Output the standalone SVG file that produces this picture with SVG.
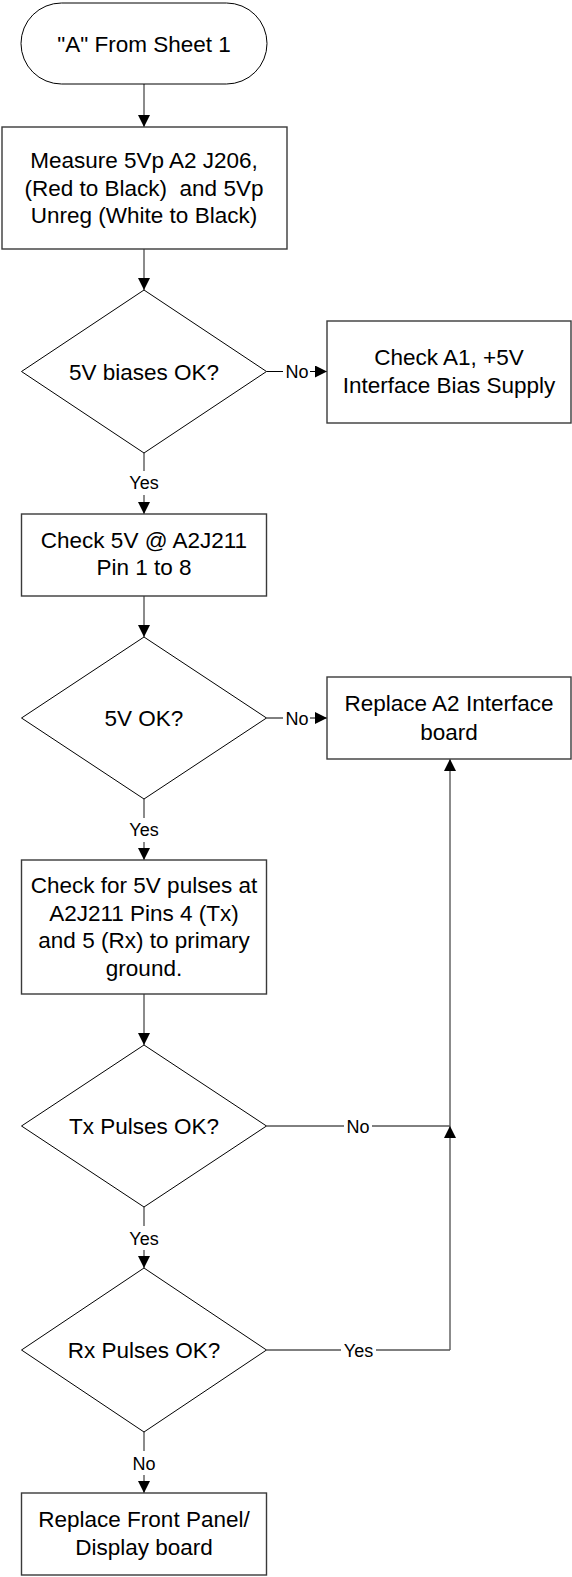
<svg xmlns="http://www.w3.org/2000/svg" width="572" height="1577" viewBox="0 0 572 1577">
<style>
.box{fill:#fff;stroke:#3a3a3a;stroke-width:1.4}
.dia{fill:#fff;stroke:#000;stroke-width:1}
.t{font-family:"Liberation Sans",Arial,sans-serif;font-size:22.5px;fill:#000;text-anchor:middle}
.lb{font-family:"Liberation Sans",Arial,sans-serif;font-size:18px;fill:#000;text-anchor:middle}
.v{stroke:#5a5a5a;stroke-width:1.4;fill:none}
.h{stroke:#000;stroke-width:1;fill:none}
</style>
<defs>
<marker id="ah" markerUnits="userSpaceOnUse" markerWidth="12" markerHeight="12" viewBox="0 0 12 12" refX="12" refY="6" orient="auto">
<path d="M0,0 L12,6 L0,12 Z" fill="#000"/>
</marker>
</defs>
<rect width="572" height="1577" fill="#fff"/>
<g id="connectors">
<line class="v" x1="144" y1="84" x2="144" y2="127" marker-end="url(#ah)"/>
<line class="v" x1="144" y1="249" x2="144" y2="290" marker-end="url(#ah)"/>
<line class="v" x1="144" y1="453" x2="144" y2="471"/>
<line class="v" x1="144" y1="495" x2="144" y2="514" marker-end="url(#ah)"/>
<line class="v" x1="144" y1="596" x2="144" y2="637" marker-end="url(#ah)"/>
<line class="v" x1="144" y1="799" x2="144" y2="818"/>
<line class="v" x1="144" y1="842" x2="144" y2="860" marker-end="url(#ah)"/>
<line class="v" x1="144" y1="994" x2="144" y2="1045" marker-end="url(#ah)"/>
<line class="v" x1="144" y1="1207" x2="144" y2="1226"/>
<line class="v" x1="144" y1="1250" x2="144" y2="1268" marker-end="url(#ah)"/>
<line class="v" x1="144" y1="1432" x2="144" y2="1451"/>
<line class="v" x1="144" y1="1475" x2="144" y2="1493" marker-end="url(#ah)"/>
<line class="h" x1="266.5" y1="371.5" x2="283" y2="371.5"/>
<line class="h" x1="310" y1="371.5" x2="327" y2="371.5" marker-end="url(#ah)"/>
<line class="h" x1="266.5" y1="718" x2="283" y2="718"/>
<line class="h" x1="310" y1="718" x2="327" y2="718" marker-end="url(#ah)"/>
<line class="h" x1="266.5" y1="1126" x2="344" y2="1126"/>
<polyline class="h" points="372,1126 450,1126"/>
<line class="v" x1="450" y1="1126" x2="450" y2="759" marker-end="url(#ah)"/>
<line class="h" x1="266.5" y1="1350" x2="341" y2="1350"/>
<polyline class="h" points="376,1350 450,1350"/>
<line class="v" x1="450" y1="1350" x2="450" y2="1126" marker-end="url(#ah)"/>
<text class="lb" x="144" y="489">Yes</text>
<text class="lb" x="144" y="836">Yes</text>
<text class="lb" x="144" y="1244.5">Yes</text>
<text class="lb" x="144" y="1469.5">No</text>
<text class="lb" x="297" y="378">No</text>
<text class="lb" x="297" y="724.5">No</text>
<text class="lb" x="358" y="1132.5">No</text>
<text class="lb" x="358.5" y="1356.5">Yes</text>
</g>
<g id="start">
<rect class="dia" x="21" y="3" width="246" height="81" rx="40.5" ry="40.5"/>
<text class="t" x="144" y="52">"A" From Sheet 1</text>
</g>
<g id="measure">
<rect class="box" x="2" y="127" width="285" height="122"/>
<text class="t" x="144" y="168">Measure 5Vp A2 J206,</text>
<text class="t" x="144" y="195.5" xml:space="preserve">(Red to Black)  and 5Vp</text>
<text class="t" x="144" y="223">Unreg (White to Black)</text>
</g>
<g id="biases">
<polygon class="dia" points="144,290 266.5,371.5 144,453 21.5,371.5"/>
<text class="t" x="144" y="379.5">5V biases OK?</text>
</g>
<g id="checkA1">
<rect class="box" x="327" y="321" width="244" height="102"/>
<text class="t" x="449" y="365">Check A1, +5V</text>
<text class="t" x="449" y="393">Interface Bias Supply</text>
</g>
<g id="check5v">
<rect class="box" x="21.5" y="514" width="245" height="82"/>
<text class="t" x="144" y="548">Check 5V @ A2J211</text>
<text class="t" x="144" y="575">Pin 1 to 8</text>
</g>
<g id="ok5v">
<polygon class="dia" points="144,637 266.5,718 144,799 21.5,718"/>
<text class="t" x="144" y="726">5V OK?</text>
</g>
<g id="replaceA2">
<rect class="box" x="327" y="677" width="244" height="82"/>
<text class="t" x="449" y="711">Replace A2 Interface</text>
<text class="t" x="449" y="740">board</text>
</g>
<g id="pulses">
<rect class="box" x="21.5" y="860" width="245" height="134"/>
<text class="t" x="144" y="893">Check for 5V pulses at</text>
<text class="t" x="144" y="920.5">A2J211 Pins 4 (Tx)</text>
<text class="t" x="144" y="948">and 5 (Rx) to primary</text>
<text class="t" x="144" y="975.5">ground.</text>
</g>
<g id="tx">
<polygon class="dia" points="144,1045 266.5,1126 144,1207 21.5,1126"/>
<text class="t" x="144" y="1134">Tx Pulses OK?</text>
</g>
<g id="rx">
<polygon class="dia" points="144,1268 266.5,1350 144,1432 21.5,1350"/>
<text class="t" x="144" y="1358">Rx Pulses OK?</text>
</g>
<g id="frontpanel">
<rect class="box" x="21.5" y="1493" width="245" height="82"/>
<text class="t" x="144" y="1527">Replace Front Panel/</text>
<text class="t" x="144" y="1555">Display board</text>
</g>
</svg>
